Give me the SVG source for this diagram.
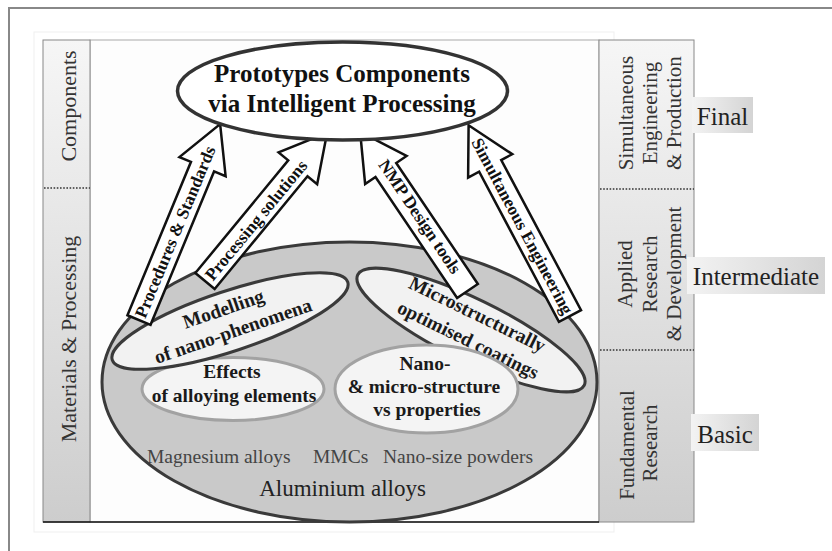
<svg xmlns="http://www.w3.org/2000/svg" width="832" height="551" viewBox="0 0 832 551" font-family="'Liberation Serif', 'Times New Roman', 'DejaVu Serif', serif">
<defs>
  <linearGradient id="colGrad" x1="0" y1="0" x2="0" y2="1">
    <stop offset="0" stop-color="#f6f6f6"/>
    <stop offset="1" stop-color="#cdcdcd"/>
  </linearGradient>
  <linearGradient id="tagGrad" x1="0" y1="0" x2="1" y2="0">
    <stop offset="0" stop-color="#f3f3f3"/>
    <stop offset="1" stop-color="#d4d4d4"/>
  </linearGradient>
  <style>
    text { font-family: 'Liberation Serif', 'Times New Roman', 'DejaVu Serif', serif; fill: #222; }
    .col { font-size: 21px; fill: #333; text-anchor: middle; }
    .side { font-size: 22px; fill: #333; text-anchor: middle; }
    .tag { font-size: 25px; fill: #222; text-anchor: middle; }
    .title { font-size: 25px; font-weight: bold; text-anchor: middle; fill: #111; }
    .node { font-size: 19.5px; font-weight: bold; text-anchor: middle; fill: #1a1a1a; }
    .alloy { font-size: 19.5px; fill: #444; }
    .arrow { fill: #fff; stroke: #111; stroke-width: 2.5; stroke-linejoin: miter; }
    .atext { font-size: 17.5px; font-weight: bold; text-anchor: middle; fill: #111; }
    .dot { stroke: #333; stroke-width: 1.6; stroke-dasharray: 1.6 1.6; }
    .inDark { fill: #f2f2f2; stroke: #3a3a3a; stroke-width: 3; }
    .inLight { fill: #f4f4f4; stroke: #a2a2a2; stroke-width: 3; }
  </style>
</defs>

<rect x="0" y="0" width="832" height="551" fill="#fff"/>
<rect x="9" y="8" width="840" height="560" fill="none" stroke="#888" stroke-width="2"/>
<rect x="34" y="32" width="580" height="500" fill="none" stroke="#efefef" stroke-width="1"/>

<g id="frame">
  <rect x="90" y="40" width="509" height="482" fill="#fdfdfd" stroke="#aaa" stroke-width="1"/>
  <rect x="43" y="40" width="47" height="482" fill="url(#colGrad)" stroke="#888" stroke-width="1"/>
  <rect x="599" y="40" width="95" height="482" fill="url(#colGrad)" stroke="#888" stroke-width="1"/>
  <line x1="43" y1="522" x2="599" y2="522" stroke="#111" stroke-width="1.5"/>
  <line class="dot" x1="44" y1="188" x2="90" y2="188"/>
  <line class="dot" x1="600" y1="189" x2="694" y2="189"/>
  <line class="dot" x1="600" y1="350" x2="694" y2="350"/>
</g>

<g id="left-labels">
  <text class="side" transform="translate(76,106) rotate(-90)">Components</text>
  <text class="side" transform="translate(76,339) rotate(-90)">Materials &amp; Processing</text>
</g>

<g id="right-labels">
  <text class="col" transform="translate(633,113) rotate(-90)">Simultaneous</text>
  <text class="col" transform="translate(657,113) rotate(-90)">Engineering</text>
  <text class="col" transform="translate(681,113) rotate(-90)">&amp; Production</text>
  <text class="col" transform="translate(632,274) rotate(-90)">Applied</text>
  <text class="col" transform="translate(657,274) rotate(-90)">Research</text>
  <text class="col" transform="translate(681,274) rotate(-90)">&amp; Development</text>
  <text class="col" transform="translate(634,445) rotate(-90)">Fundamental</text>
  <text class="col" transform="translate(657,443) rotate(-90)">Research</text>
</g>

<g id="tag-final">
  <rect x="692" y="97" width="61" height="36" fill="url(#tagGrad)"/>
  <text class="tag" x="722.5" y="125">Final</text>
</g>
<g id="tag-intermediate">
  <rect x="687" y="257" width="138" height="37" fill="url(#tagGrad)"/>
  <text class="tag" x="756" y="285">Intermediate</text>
</g>
<g id="tag-basic">
  <rect x="691" y="414" width="68" height="37" fill="url(#tagGrad)"/>
  <text class="tag" x="725" y="443">Basic</text>
</g>

<g id="aluminium">
  <ellipse cx="349.5" cy="382" rx="247.5" ry="140" fill="#c9c9c9" stroke="#3a3a3a" stroke-width="3"/>
  <text class="alloy" x="147" y="463">Magnesium alloys</text>
  <text class="alloy" x="313" y="463">MMCs</text>
  <text class="alloy" x="383" y="463">Nano-size powders</text>
  <text x="342.5" y="496" font-size="23" fill="#333" text-anchor="middle">Aluminium alloys</text>
</g>

<g id="effects">
  <ellipse class="inLight" cx="233" cy="389" rx="91" ry="31.5"/>
  <text class="node" x="232" y="378">Effects</text>
  <text class="node" x="234" y="402">of alloying elements</text>
</g>

<g id="modelling">
  <g transform="translate(230,321) rotate(-18.3)">
    <ellipse class="inDark" cx="0" cy="0" rx="124" ry="30"/>
  </g>
  <g transform="translate(230,322) rotate(-19)">
    <text class="node" x="-2" y="-8">Modelling</text>
    <text class="node" x="0" y="16">of nano-phenomena</text>
  </g>
</g>

<g id="coatings">
  <g transform="translate(471,330) rotate(26)">
    <ellipse class="inDark" cx="0" cy="0" rx="126" ry="31"/>
  </g>
  <g transform="translate(472,330) rotate(26)">
    <text class="node" x="-2" y="-10">Microstructurally</text>
    <text class="node" x="1" y="17">optimised coatings</text>
  </g>
</g>

<g id="nano">
  <ellipse class="inLight" cx="426.5" cy="389" rx="91.5" ry="44"/>
  <text class="node" x="425" y="370">Nano-</text>
  <text class="node" x="424" y="393">&amp; micro-structure</text>
  <text class="node" x="427" y="416">vs properties</text>
</g>

<g id="connectors">
  <g transform="translate(139,320) rotate(-67.5)">
    <polygon class="arrow" points="0,-12.5 166,-12.5 166,-25 212,0 166,25 166,12.5 0,12.5"/>
  </g>
  <g transform="translate(205,281) rotate(-50.5)">
    <polygon class="arrow" points="0,-12.5 146,-12.5 146,-25 192,0 146,25 146,12.5 0,12.5"/>
  </g>
  <g transform="translate(467.5,291) rotate(-124)">
    <polygon class="arrow" points="0,-12.5 146,-12.5 146,-25 192,0 146,25 146,12.5 0,12.5"/>
  </g>
  <g transform="translate(570,316) rotate(-118)">
    <polygon class="arrow" points="0,-12.5 170,-12.5 170,-25 216,0 170,25 170,12.5 0,12.5"/>
  </g>
  <text class="atext" transform="translate(175,232) rotate(-67.5)" y="6">Procedures &amp; Standards</text>
  <text class="atext" transform="translate(256,220) rotate(-50.5)" y="6">Processing solutions</text>
  <text class="atext" transform="translate(420,216.5) rotate(56)" y="6">NMP Design  tools</text>
  <text class="atext" transform="translate(522.5,226) rotate(62)" y="6">Simultaneous Engineering</text>
</g>

<g id="prototypes">
  <ellipse cx="342.5" cy="91" rx="165" ry="49" fill="#fff" stroke="#333" stroke-width="3.5"/>
  <text class="title" x="342" y="82">Prototypes Components</text>
  <text class="title" x="342" y="112">via Intelligent Processing</text>
</g>
</svg>
